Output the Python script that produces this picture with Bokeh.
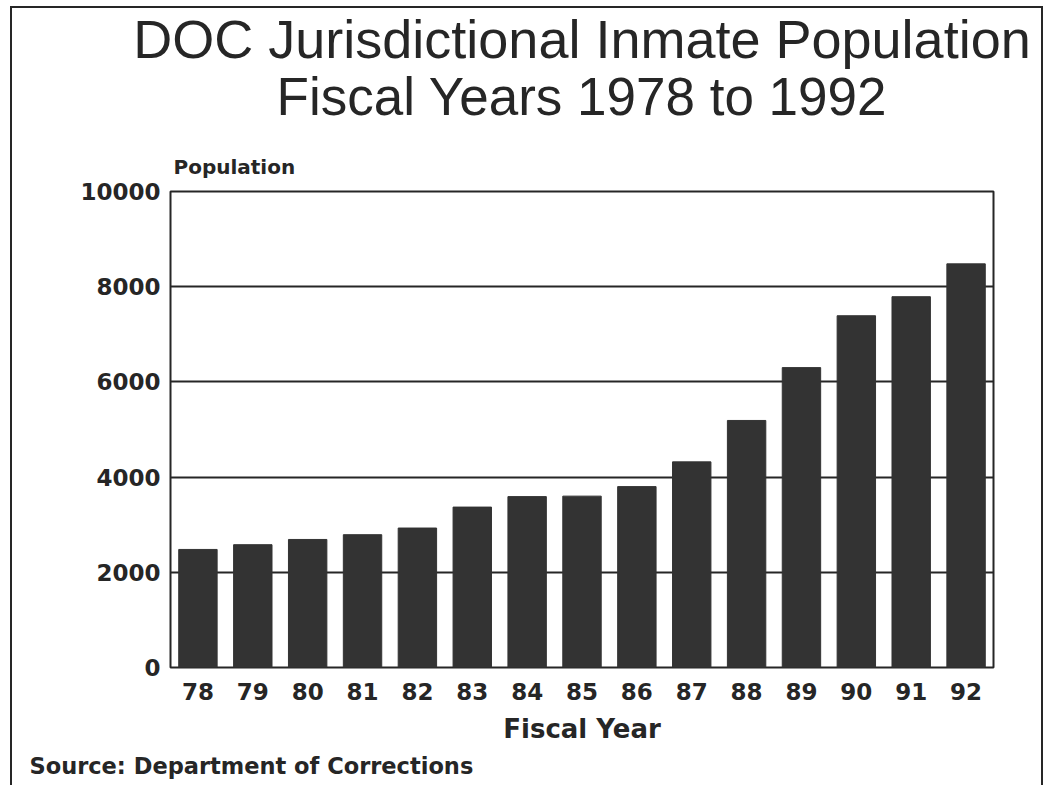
from bokeh.plotting import figure
from bokeh.models import FactorRange, Range1d, FixedTicker, Title, ColumnDataSource
from bokeh.embed import file_html
from bokeh.resources import INLINE

# Fiscal years (two-digit labels) and inmate population under DOC jurisdiction
years = ["78", "79", "80", "81", "82", "83", "84", "85", "86", "87", "88", "89", "90", "91", "92"]
population = [2480, 2580, 2690, 2790, 2930, 3370, 3590, 3600, 3800, 4320, 5190, 6300, 7390, 7790, 8480]
y_ticks = [0, 2000, 4000, 6000, 8000, 10000]

title_line1 = "DOC Jurisdictional Inmate Population"
title_line2 = "Fiscal Years 1978 to 1992"
y_label = "Population"
x_label = "Fiscal Year"
source_note = "Source: Department of Corrections"

INK = "#262626"
BAR = "#333333"
LABEL_FONT = "DejaVu Sans"
TITLE_FONT = "Liberation Sans"

W, H = 1046, 785
# frame placement on the canvas
FL, FR, FT, FB = 170, 993, 191, 667

p = figure(
    width=W, height=H,
    x_range=FactorRange(factors=years, range_padding=0),
    y_range=Range1d(0, 10000),
    output_backend="svg", toolbar_location=None, tools="",
    min_border_left=FL, min_border_right=W - FR,
    min_border_top=FT, min_border_bottom=H - FB,
    background_fill_color="white", border_fill_color=None,
)

src = ColumnDataSource(dict(year=years, pop=population))
p.vbar(x="year", top="pop", width=0.7, source=src, fill_color=BAR, line_color=BAR)

p.outline_line_color = INK
p.outline_line_width = 2

p.xgrid.grid_line_color = None
p.ygrid.grid_line_color = INK
p.ygrid.grid_line_width = 2

p.yaxis.ticker = FixedTicker(ticks=y_ticks)
for ax in (p.xaxis, p.yaxis):
    ax.axis_line_color = None
    ax.major_tick_line_color = None
    ax.minor_tick_line_color = None
    ax.major_tick_out = 0
    ax.major_tick_in = 0
    ax.major_label_text_font = LABEL_FONT
    ax.major_label_text_font_style = "bold"
    ax.major_label_text_font_size = "23px"
    ax.major_label_text_color = INK
p.yaxis.major_label_standoff = 10
p.xaxis.major_label_standoff = 15

p.xaxis.axis_label = x_label
p.xaxis.axis_label_text_font = LABEL_FONT
p.xaxis.axis_label_text_font_style = "bold"
p.xaxis.axis_label_text_font_size = "26px"
p.xaxis.axis_label_text_color = INK
p.xaxis.axis_label_standoff = 11


def heading(text, size, font, style, align="center", standoff=0, offset=0):
    return Title(text=text, align=align, offset=offset, standoff=standoff,
                 text_font=font, text_font_size=size, text_font_style=style,
                 text_color=INK)


# stacked outward from the frame: axis caption, subtitle, main title
p.add_layout(heading(y_label, "20px", LABEL_FONT, "bold", align="left", standoff=25, offset=3), "above")
p.add_layout(heading(title_line2, "53px", TITLE_FONT, "normal", standoff=29), "above")
p.add_layout(heading(title_line1, "54px", TITLE_FONT, "normal", standoff=-37), "above")

p.add_layout(heading(source_note, "22.5px", LABEL_FONT, "bold", align="left", standoff=8, offset=29 - FL), "below")

# thin page border drawn behind the transparent canvas
p.styles = {
    "background-color": "white",
    "background-image": "linear-gradient(#262626,#262626), linear-gradient(#262626,#262626), linear-gradient(#262626,#262626)",
    "background-size": "2px 780px, 1033px 2px, 2px 780px",
    "background-position": "10px 6px, 10px 6px, 1041px 6px",
    "background-repeat": "no-repeat",
}

open("out.html", "w").write(file_html(p, INLINE))
